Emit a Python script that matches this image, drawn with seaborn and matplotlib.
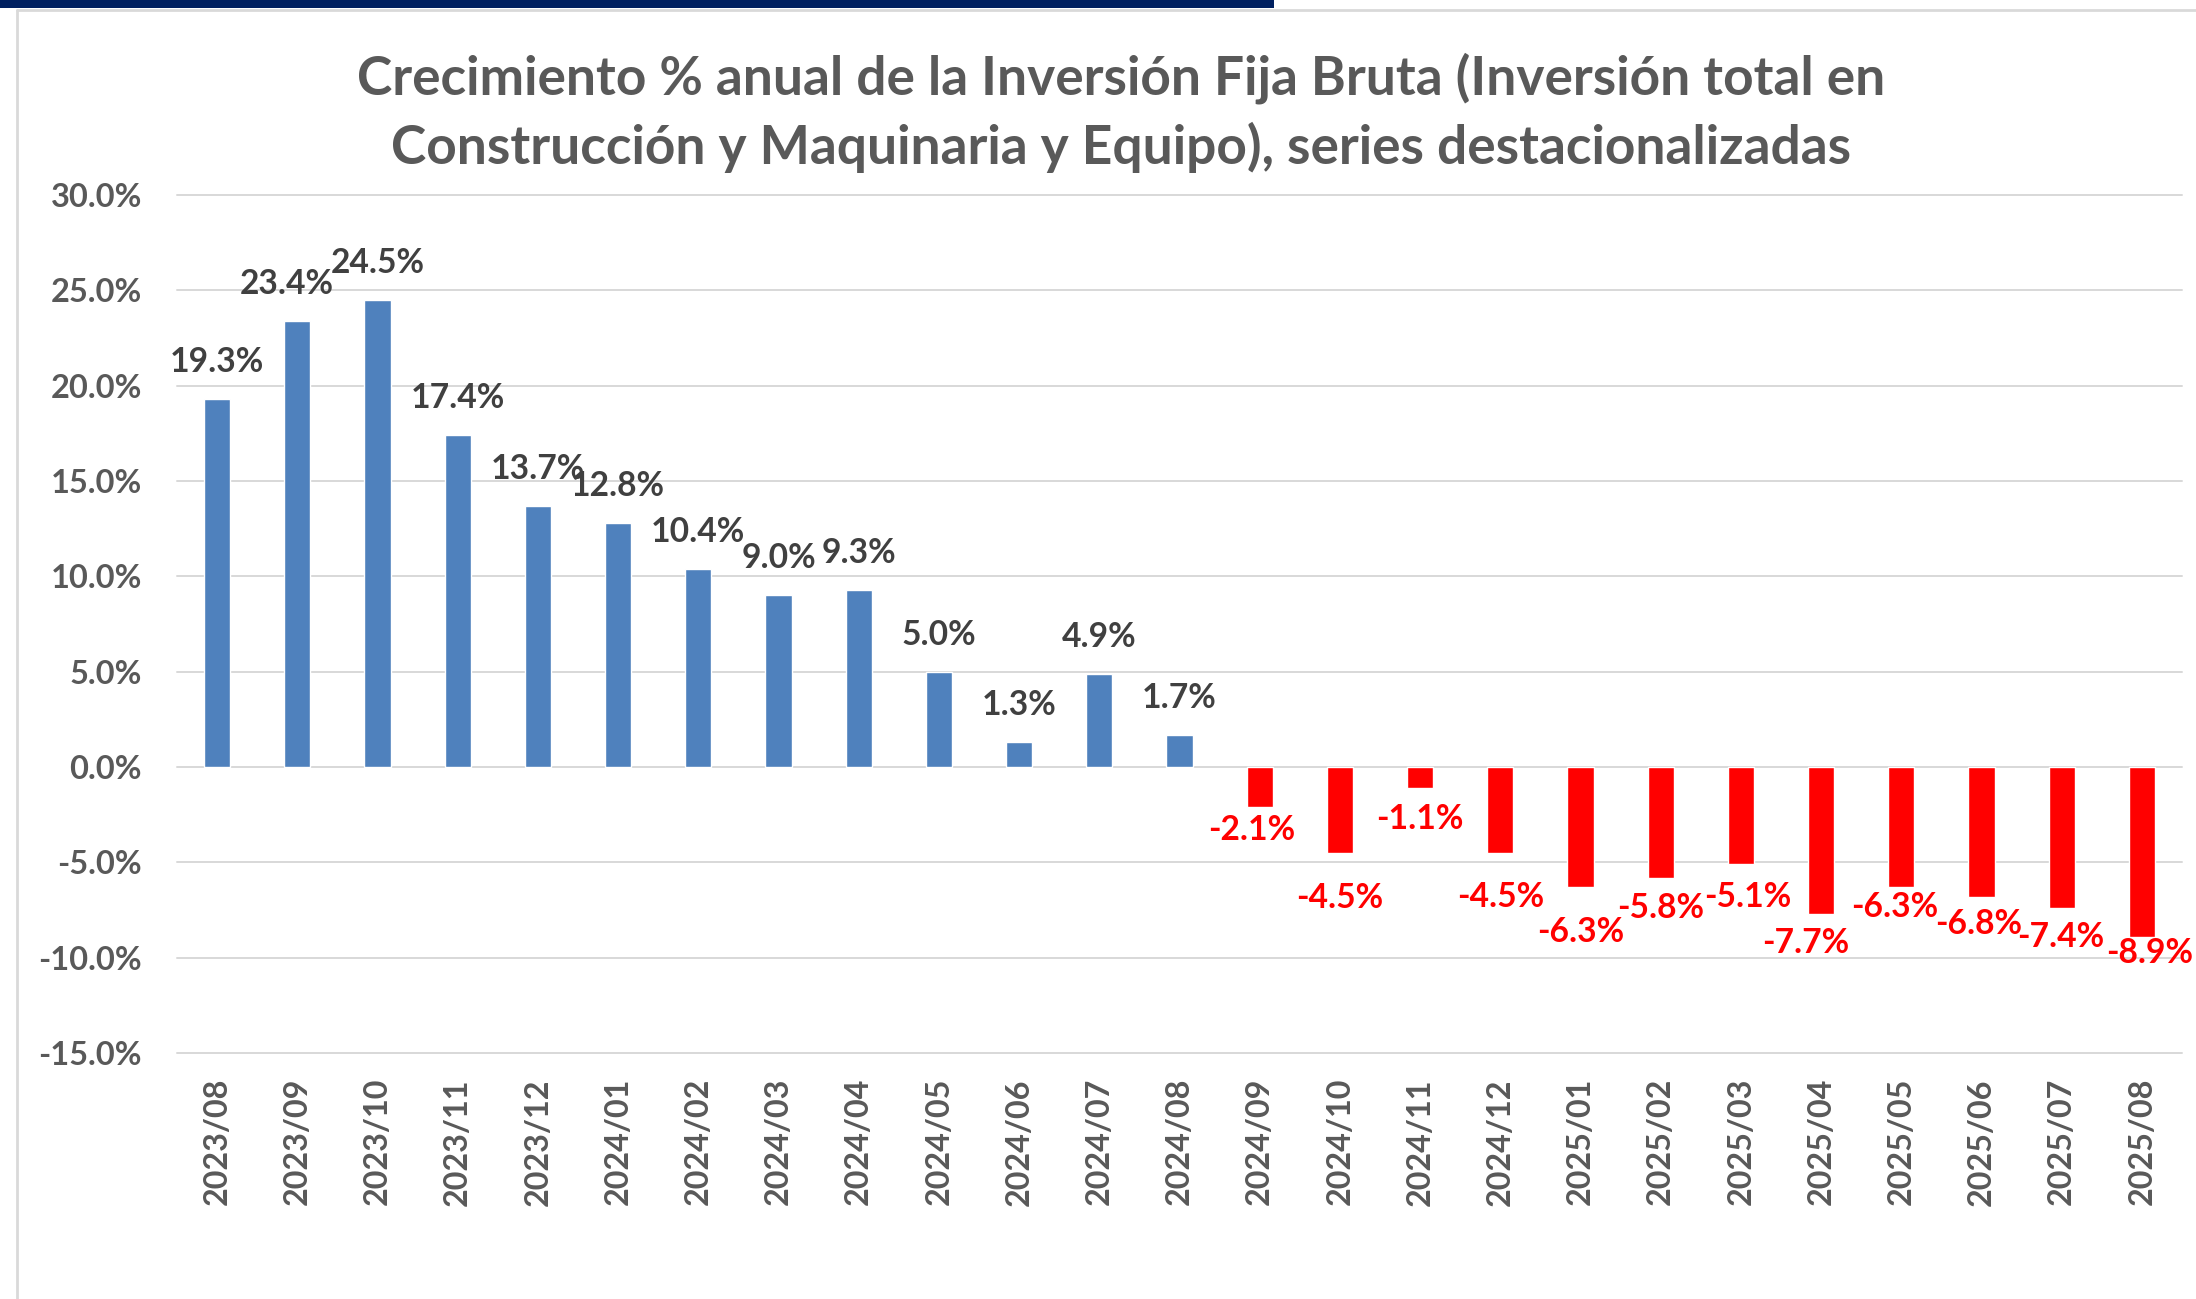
"""
Crecimiento anual de la Inversión Fija Bruta - barras mensuales.
"""

import numpy as np
import pandas as pd
import matplotlib.pyplot as plt
import seaborn as sns
from matplotlib.lines import Line2D
from matplotlib.patches import Rectangle

# ── Datos ────────────────────────────────────────────────────────────────────
periods = [
    "2023/08", "2023/09", "2023/10", "2023/11", "2023/12",
    "2024/01", "2024/02", "2024/03", "2024/04", "2024/05", "2024/06",
    "2024/07", "2024/08", "2024/09", "2024/10", "2024/11", "2024/12",
    "2025/01", "2025/02", "2025/03", "2025/04", "2025/05", "2025/06",
    "2025/07", "2025/08",
]
growth = [
    19.3, 23.4, 24.5, 17.4, 13.7, 12.8, 10.4, 9.0, 9.3, 5.0, 1.3, 4.9, 1.7,
    -2.1, -4.5, -1.1, -4.5, -6.3, -5.8, -5.1, -7.7, -6.3, -6.8, -7.4, -8.9,
]
title_lines = [
    "Crecimiento % anual de la Inversión Fija Bruta (Inversión total en",
    "Construcción y Maquinaria y Equipo), series destacionalizadas",
]

# label nudges (pixels): horizontal shift, distance of label centre from bar end
label_dx = [0, -11, 0, 0, 0, 0, 0, 0, 0, 0, 0, 0, 0,
            -8, 0, 0, 0, 0, 0, 7, -15, -7, -3, -1, 8]
label_gap = [39] * 13 + [21, 43, 29, 42, 43, 28, 31, 27, 18, 25, 27, 14]

df = pd.DataFrame({"periodo": periods, "crecimiento": growth})
df["signo"] = np.where(df["crecimiento"] >= 0, "pos", "neg")

# ── Estilo ───────────────────────────────────────────────────────────────────
sns.set_theme(style="white")
plt.rcParams["font.family"] = ["Lato", "DejaVu Sans"]
plt.rcParams["font.weight"] = "bold"

W, H = 2196, 1299
px = 72 / 100  # pixels -> points at dpi 100
GREY = "#595959"

fig = plt.figure(figsize=(W / 100, H / 100), dpi=100)
ax = fig.add_axes([177 / W, 1 - 1053 / H, (2182 - 177) / W, (1053 - 195) / H])

sns.barplot(data=df, x="periodo", y="crecimiento", hue="signo",
            palette={"pos": "#4F81BD", "neg": "#FF0000"}, saturation=1,
            width=0.325, dodge=False, legend=False, ax=ax)

ax.set_xlim(-0.5, len(periods) - 0.5)
ax.set_ylim(-15, 30)
ticks = np.arange(-15, 31, 5)
ax.set_yticks(ticks)
ax.set_yticklabels([f"{t:.1f}%" for t in ticks])
ax.set_xlabel("")
ax.set_ylabel("")
for s in ax.spines.values():
    s.set_visible(False)

ax.yaxis.grid(True, color="#D9D9D9", linewidth=2 * px)
ax.xaxis.grid(False)
ax.set_axisbelow(True)
for gl in ax.get_ygridlines():
    gl.set_clip_on(False)

ax.tick_params(axis="y", length=0, pad=35 * px, labelsize=23.5, labelcolor=GREY)
ax.tick_params(axis="x", length=0, pad=25 * px, labelsize=23.3, labelcolor=GREY,
               rotation=90)

# ── Etiquetas de datos ───────────────────────────────────────────────────────
cap = 12  # half cap height in pixels
for i, v in enumerate(growth):
    if v >= 0:
        dy = label_gap[i] - cap
        color = "#404040"
    else:
        dy = -(label_gap[i] + cap)
        color = "#FF0000"
    ax.annotate(f"{v:.1f}%", xy=(i, v), xytext=(label_dx[i] * px, dy * px),
                textcoords="offset points", ha="center", va="baseline",
                fontsize=24.2, fontweight="bold", color=color,
                annotation_clip=False)

# ── Título y marco ───────────────────────────────────────────────────────────
for line, base in zip(title_lines, [94, 164]):
    fig.text(1121 / W, 1 - base / H, line, ha="center", va="baseline",
             fontsize=38.3, fontweight="bold", color=GREY)

fig.add_artist(Rectangle((0, 1 - 8 / H), 1274 / W, 8 / H,
                         transform=fig.transFigure, color="#002060", lw=0))
fig.add_artist(Line2D([17 / W, 1], [1 - 10 / H, 1 - 10 / H],
                      transform=fig.transFigure, color="#D9D9D9", lw=2))
fig.add_artist(Line2D([17 / W, 17 / W], [0, 1 - 10 / H],
                      transform=fig.transFigure, color="#D9D9D9", lw=2))

plt.savefig("out.png", dpi=100)
